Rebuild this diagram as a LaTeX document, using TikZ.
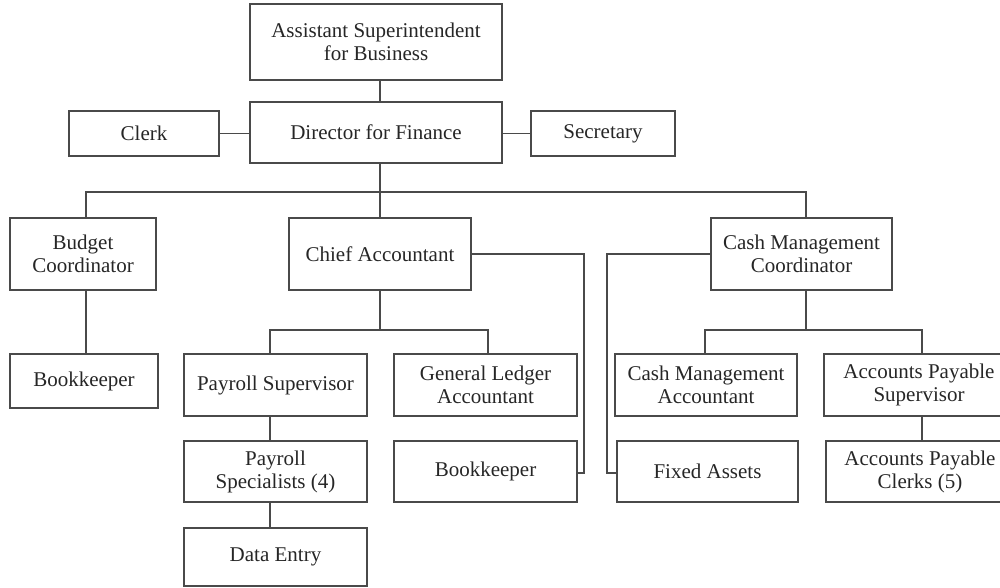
\documentclass[tikz,border=0pt]{standalone}
\usepackage{fontspec}
\setmainfont{Liberation Serif}
\begin{document}
\begin{tikzpicture}[x=1pt,y=-1pt,
  box/.style={draw=linec, line width=1.8pt, inner sep=0pt, align=center, text=textc,
    font=\fontsize{21}{23}\selectfont},
  conn/.style={draw=linec, line width=1.8pt}]
\definecolor{linec}{HTML}{4A4A4A}
\definecolor{textc}{HTML}{262626}
\useasboundingbox (0,0) rectangle (1000,588);
\clip (0,0) rectangle (1000,588);
% nodes
\node[box, minimum width=252pt, minimum height=76pt] (asb) at (376,42) {Assistant Superintendent\\for Business};
\node[box, minimum width=252pt, minimum height=61pt] (dir) at (376,132.5) {Director for Finance};
\node[box, minimum width=150pt, minimum height=45pt] (clerk) at (144,133.5) {Clerk};
\node[box, minimum width=144pt, minimum height=45pt] (sec) at (603,133.5) {Secretary};
\node[box, minimum width=146pt, minimum height=72pt] (budget) at (83,254) {Budget\\Coordinator};
\node[box, minimum width=148pt, minimum height=54pt] (bk1) at (84,381) {Bookkeeper};
\node[box, minimum width=182pt, minimum height=72pt] (chief) at (380,254) {Chief Accountant};
\node[box, minimum width=181pt, minimum height=72pt] (cmc) at (801.5,254) {Cash Management\\Coordinator};
\node[box, minimum width=183pt, minimum height=62pt] (ps) at (275.5,385) {Payroll Supervisor};
\node[box, minimum width=183pt, minimum height=62pt] (gla) at (485.5,385) {General Ledger\\Accountant};
\node[box, minimum width=183pt, minimum height=61pt] (pspec) at (275.5,471.5) {Payroll\\Specialists (4)};
\node[box, minimum width=183pt, minimum height=61pt] (bk2) at (485.5,471.5) {Bookkeeper};
\node[box, minimum width=183pt, minimum height=58pt] (de) at (275.5,557) {Data Entry};
\node[box, minimum width=182pt, minimum height=62pt] (cma) at (706,385) {Cash Management\\Accountant};
\node[box, minimum width=190pt, minimum height=62pt] (aps) at (919,385) {Accounts Payable\\Supervisor};
\node[box, minimum width=181pt, minimum height=61pt] (fa) at (707.5,471.5) {Fixed Assets};
\node[box, minimum width=188pt, minimum height=61pt] (apc) at (920,471.5) {Accounts Payable\\Clerks (5)};
% coordinates for connector bends
\coordinate (bus) at (380,192);
\coordinate (busL) at (86,192);
\coordinate (busR) at (806,192);
\coordinate (cbusL) at (270,330);
\coordinate (cbusR) at (488,330);
\coordinate (mbusL) at (705,330);
\coordinate (mbusR) at (922,330);
\coordinate (cr) at (584,473);
\coordinate (cl) at (607,473);
% connectors
\draw[conn] (asb.south -| chief.north) -- (dir.north -| chief.north);
\draw[conn] (clerk.east) -- (clerk.east -| dir.west);
\draw[conn] (sec.west) -- (sec.west -| dir.east);
\draw[conn] (dir.south -| chief.north) -- (chief.north);
\draw[conn] (busL |- budget.north) -- (busL) -- (busR) -- (busR |- cmc.north);
\draw[conn] (busL |- budget.south) -- (busL |- bk1.north);
\draw[conn] (chief.south) -- (chief.south |- cbusL);
\draw[conn] (cbusL |- ps.north) -- (cbusL) -- (cbusR) -- (cbusR |- gla.north);
\draw[conn] (cbusL |- ps.south) -- (cbusL |- pspec.north);
\draw[conn] (cbusL |- pspec.south) -- (cbusL |- de.north);
\draw[conn] (chief.east) -| (cr) -- (cr -| bk2.east);
\draw[conn] (cmc.west) -| (cl) -- (cl -| fa.west);
\draw[conn] (busR |- cmc.south) -- (busR |- mbusL);
\draw[conn] (mbusL |- cma.north) -- (mbusL) -- (mbusR) -- (mbusR |- aps.north);
\draw[conn] (mbusR |- aps.south) -- (mbusR |- apc.north);
\end{tikzpicture}
\end{document}
